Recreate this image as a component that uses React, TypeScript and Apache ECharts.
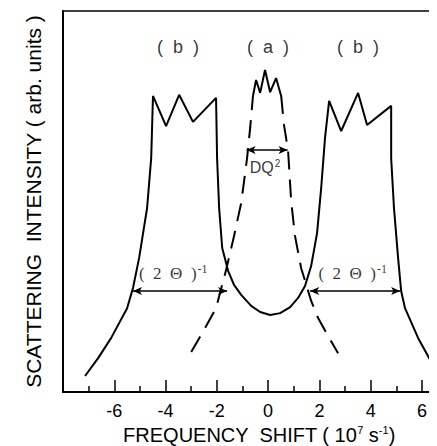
import React, { useEffect, useRef } from "react";
import * as echarts from "echarts";

// Curve (b): solid, [frequency shift, intensity]
const curveB: [number, number][] = [
  [-7.14, 4.2], [-6.63, 8.9], [-6.12, 14.2], [-5.5, 22.0], [-5.27, 27.3], [-5.03, 35.2],
  [-4.72, 48.3], [-4.56, 61.4], [-4.49, 77.7], [-3.98, 69.8], [-3.47, 78.0], [-2.93, 70.9],
  [-2.03, 77.2], [-1.99, 61.4], [-1.91, 48.3], [-1.79, 37.8], [-1.56, 31.8], [-1.33, 28.1],
  [-1.05, 25.5], [-0.66, 22.6], [-0.31, 21.0], [0.08, 20.2], [0.47, 20.7], [0.86, 22.3],
  [1.17, 24.7], [1.44, 27.8], [1.68, 33.1], [1.91, 41.7], [2.07, 53.5], [2.22, 66.7],
  [2.38, 76.4], [2.85, 68.5], [3.51, 78.5], [3.86, 70.1], [4.8, 75.1], [4.8, 61.4],
  [4.91, 48.3], [5.07, 35.2], [5.19, 26.5], [5.34, 22.0], [5.85, 14.2], [6.28, 8.9], [6.71, 3.7],
];

// Curve (a): dashed flanks and solid jagged top
const curveALeft: [number, number][] = [
  [-3.0, 10.5], [-2.5, 16.3], [-2.03, 22.0], [-1.64, 32.0], [-1.33, 40.9], [-1.05, 49.6],
  [-0.82, 61.4], [-0.7, 69.3], [-0.59, 77.7],
];
const curveATop: [number, number][] = [
  [-0.59, 77.7], [-0.47, 81.9], [-0.31, 78.5], [-0.12, 84.5], [0.08, 78.7], [0.31, 82.4], [0.51, 77.7],
];
const curveARight: [number, number][] = [
  [0.51, 77.7], [0.62, 70.1], [0.78, 63.3], [0.9, 50.1], [1.05, 40.9], [1.29, 32.5],
  [1.68, 23.9], [1.95, 19.4], [2.34, 14.7], [2.73, 10.2],
];

// Annotations
const peakLabels = ["(  b  )", "(  a  )", "(  b  )"];
const peakLabelX = [-3.51, 0, 3.51];
const peakLabelY = 90.5;
const dqLabelPos: [number, number] = [-0.12, 58.8];
const thetaLabelX = [-3.7, 3.3];
const thetaLabelY = 31.0;

const widthArrows: [number, number, number][] = [
  // [x1, x2, y]
  [-5.27, -1.6, 26.5],
  [1.64, 5.15, 26.5],
  [-0.84, 0.76, 63.5],
];

export default function App() {
  const ref = useRef<HTMLDivElement>(null);
  useEffect(() => {
    if (!ref.current) return;
    const chart = echarts.init(ref.current, undefined, { renderer: "svg" });
    const sans = "'Liberation Sans', Arial, sans-serif";
    const serif = "'Liberation Serif', 'Times New Roman', serif";

    const annotations: any[] = [];
    peakLabels.forEach((t, i) => {
      annotations.push({
        value: [peakLabelX[i], peakLabelY],
        label: { formatter: t, fontSize: 18, fontFamily: sans, color: "#000" },
      });
    });
    annotations.push({
      value: dqLabelPos,
      label: {
        formatter: "{m|DQ}{sup|2}",
        color: "#000",
        rich: {
          m: { fontSize: 16, fontFamily: sans, color: "#000" },
          sup: { fontSize: 10, fontFamily: sans, color: "#000", padding: [0, 0, 8, 1] },
        },
      },
    });
    thetaLabelX.forEach((x) => {
      annotations.push({
        value: [x, thetaLabelY],
        label: {
          formatter: "{m|(  2  Θ  )}{sup|-1}",
          color: "#000",
          rich: {
            m: { fontSize: 17, fontFamily: serif, color: "#000" },
            sup: { fontSize: 12, fontFamily: serif, color: "#000", padding: [0, 0, 10, 1] },
          },
        },
      });
    });

    chart.setOption({
      animation: false,
      backgroundColor: "#fff",
      grid: { left: 55, right: 0, top: 3, bottom: 62, containLabel: false },
      xAxis: [
        {
          type: "value",
          min: -8,
          max: 6.9,
          interval: 2,
          position: "bottom",
          axisLine: { show: true, onZero: false, lineStyle: { color: "#000", width: 2 } },
          axisTick: { show: true, inside: true, length: 12, lineStyle: { color: "#000", width: 1.5 } },
          minorTick: { show: true, splitNumber: 2, length: 6, lineStyle: { color: "#000", width: 1.5 } },
          splitLine: { show: false },
          minorSplitLine: { show: false },
          axisLabel: {
            color: "#000",
            fontSize: 18,
            fontFamily: sans,
            margin: 10,
            showMinLabel: false,
            showMaxLabel: false,
            formatter: (v: number) => (v <= -8 || v > 6.5 ? "" : String(v)),
          },
          name: "FREQUENCY  SHIFT ( 10{sup|7} s{sup|-1})",
          nameLocation: "middle",
          nameGap: 32,
          nameTextStyle: {
            color: "#000",
            fontSize: 20,
            fontFamily: sans,
            padding: [0, 0, 0, 10],
            rich: { sup: { fontSize: 11, fontFamily: sans, color: "#000", padding: [0, 0, 10, 0] } },
          },
        },
        {
          type: "value",
          min: -8,
          max: 6.9,
          position: "top",
          axisLine: { show: true, onZero: false, lineStyle: { color: "#000", width: 1.5 } },
          axisTick: { show: false },
          axisLabel: { show: false },
          splitLine: { show: false },
        },
      ],
      yAxis: {
        type: "value",
        min: 0,
        max: 100,
        axisLine: { show: true, onZero: false, lineStyle: { color: "#000", width: 2 } },
        axisTick: { show: false },
        axisLabel: { show: false },
        splitLine: { show: false },
        name: "SCATTERING  INTENSITY ( arb. units )",
        nameLocation: "middle",
        nameRotate: 90,
        nameGap: 19,
        nameTextStyle: { color: "#000", fontSize: 21, fontFamily: sans },
      },
      series: [
        {
          type: "line",
          data: curveB,
          symbol: "none",
          lineStyle: { color: "#000", width: 2 },
          silent: true,
        },
        {
          type: "line",
          data: curveALeft,
          symbol: "none",
          lineStyle: { color: "#000", width: 2, type: [18, 10] },
          silent: true,
        },
        {
          type: "line",
          data: curveATop,
          symbol: "none",
          lineStyle: { color: "#000", width: 2 },
          silent: true,
        },
        {
          type: "line",
          data: curveARight,
          symbol: "none",
          lineStyle: { color: "#000", width: 2, type: [18, 10] },
          silent: true,
        },
        {
          type: "scatter",
          data: annotations,
          symbolSize: 1,
          itemStyle: { color: "rgba(0,0,0,0)" },
          silent: true,
          label: { show: true, position: "inside", color: "#000" },
          markLine: {
            silent: true,
            symbol: ["arrow", "arrow"],
            symbolSize: [6, 9],
            label: { show: false },
            lineStyle: { color: "#000", width: 1.5, type: "solid" },
            data: widthArrows.map(([x1, x2, y]) => [{ coord: [x1, y] }, { coord: [x2, y] }]),
          },
        },
      ],
    });
    return () => chart.dispose();
  }, []);
  return <div ref={ref} style={{ width: 437, height: 446 }} />;
}
